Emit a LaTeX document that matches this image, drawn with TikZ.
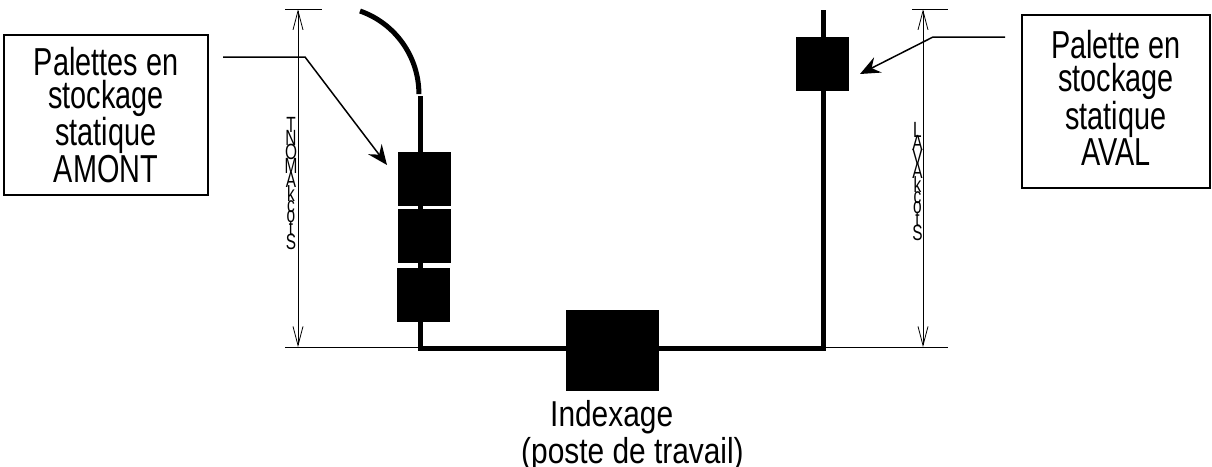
\documentclass[tikz,border=0pt]{standalone}
\usepackage{fontspec}
\setmainfont{Liberation Sans}
\newfontfamily\boxfont[FakeStretch=0.74]{Liberation Sans}
\newfontfamily\idxfont[FakeStretch=0.83]{Liberation Sans}
\newfontfamily\stkfont[FakeStretch=0.7]{Liberation Sans}
\newcommand\mystackfont{\stkfont\fontsize{22}{0}\selectfont\baselineskip=0pt\lineskip=-1.5pt\lineskiplimit=0pt\relax}
\usetikzlibrary{arrows.meta}
\begin{document}
\begin{tikzpicture}[x=1pt,y=-1pt,
  track/.style={line width=5pt, line join=miter},
  pallet/.style={fill=black, draw=none, minimum width=53pt, minimum height=54pt, inner sep=0pt},
  labelbox/.style={draw, line width=1.3pt, inner sep=0pt},
  labeltext/.style={inner sep=0pt, font=\boxfont\fontsize{39}{33}\selectfont, align=center},
  pointer/.style={line width=1.5pt, -{Stealth[length=20pt,width=17pt,inset=7pt]}},
  dim/.style={line width=0.8pt},
  dimarrow/.style={dim, {Straight Barb[length=19pt,width=10pt]}-{Straight Barb[length=19pt,width=10pt]}},
  stack/.style={font=\mystackfont, align=center, inner sep=0pt, anchor=north},
  idx/.style={font=\idxfont\fontsize{36}{36}\selectfont, inner sep=0pt, anchor=base west}
]
\useasboundingbox (0,0) rectangle (1212,466);

% track (drawn first, behind pallets)
\coordinate (arcStart) at (360,11);
\coordinate (trackTop) at (420,96);
\coordinate (cornerL) at (420,348);
\coordinate (cornerR) at (823,348);
\coordinate (trackEnd) at (823,10);
\draw[track] (arcStart) arc[start angle=-70.7, end angle=0, radius=88];
\draw[track] (trackTop) -- (cornerL) -- (cornerR) -- (trackEnd);

% pallets
\node[pallet] (p1) at (424.5,179) {};
\node[pallet] (p2) at (424.5,236) {};
\node[pallet] (p3) at (423,294.5) {};
\node[pallet] (pr) at (822.5,64) {};
\node[pallet, minimum width=93pt, minimum height=81pt] (ix) at (612.5,350.5) {};

% label boxes
\node[labelbox, minimum width=204pt, minimum height=160pt] (amont) at (106,115) {};
\node[labeltext] (amontText) at (106,115) {Palettes en\\stockage\\statique\\AMONT};
\node[labelbox, minimum width=188pt, minimum height=173pt] (aval) at (1116,101.5) {};
\node[labeltext] (avalText) at (1116,98) {Palette en\\stockage\\statique\\AVAL};

% pointers
\coordinate (ptrA0) at (223,57);
\coordinate (ptrA1) at (305,57);
\coordinate (ptrAtip) at (387,165);
\draw[pointer] (ptrA0) -- (ptrA1) -- (ptrAtip);
\coordinate (ptrB0) at (1005,37);
\coordinate (ptrB1) at (933,37);
\coordinate (ptrBtip) at (860,74);
\draw[pointer] (ptrB0) -- (ptrB1) -- (ptrBtip);

% dimension lines
\coordinate (dLt) at (298,9.3);
\coordinate (dLb) at (298,347);
\draw[dim] (285,9.3) -- (322,9.3);
\draw[dim] (285,347) -- (420,347);
\draw[dimarrow] (dLt) -- (dLb);
\coordinate (dRt) at (923,9.3);
\coordinate (dRb) at (923,347);
\draw[dim] (912,9.3) -- (948,9.3);
\draw[dim] (823,347) -- (948,347);
\draw[dimarrow] (dRt) -- (dRb);

% stacked vertical texts
\node[stack] (stockA) at (291,117) {T\\N\\O\\M\\A\\k\\c\\o\\t\\S};
\node[stack] (stockB) at (917.5,122) {L\\A\\V\\A\\k\\c\\o\\t\\S};

% bottom caption
\node[idx] (idx1) at (550,426) {Indexage};
\node[idx] (idx2) at (521,463) {(poste de travail)};
\end{tikzpicture}
\end{document}
